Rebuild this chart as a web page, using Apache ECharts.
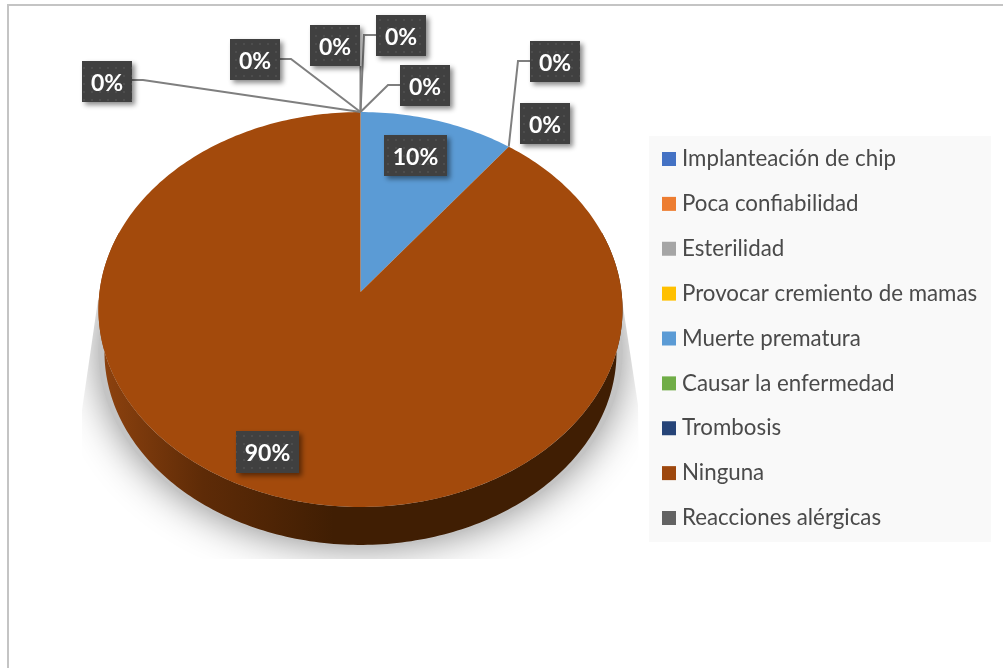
<!DOCTYPE html>
<html>
<head>
<meta charset="utf-8">
<style>html,body{margin:0;padding:0;background:#fff}#c{width:1003px;height:668px}</style>
<script src="https://cdn.jsdelivr.net/npm/echarts@6/dist/echarts.min.js"></script>
</head>
<body>
<div id="c"></div>
<script>
const categories = ['Implanteación de chip','Poca confiabilidad','Esterilidad','Provocar cremiento de mamas','Muerte prematura','Causar la enfermedad','Trombosis','Ninguna','Reacciones alérgicas'];
const values = [0,0,0,0,10.4,0,0,89.6,0];
const legendColors = ['#4472c4','#ed7d31','#a5a5a5','#ffc000','#5b9bd5','#70ad47','#264478','#9e480e','#636363'];
const sliceColors = ['#4472c4','#ed7d31','#a5a5a5','#ffc000','#5b9bd5','#70ad47','#264478','#a34a0c','#636363'];
// label box [left, top, width, height] per category
const labelBoxes = [[400,65,50,41],[376,15,50,41],[310,25,50,41],[230,39,50,41],[384,135,63,41],[520,103,50,41],[530,41,50,41],[236,431,63,42],[82,61,50,41]];
// leader elbows per category, null when a label has no leader
const leaders = [[[388,85],[400,85]],[[364,35],[376,35]],[[360.5,66]],[[291,59],[280,59]],null,null,[[518,61],[530,61]],null,[[143,80],[132,80]]];

const total = values.reduce((a,b)=>a+b,0);
const cum = []; values.reduce((a,b,i)=>{cum[i]=a;return a+b;},0);

// Tilted disc: projective view of a circle
const VX=360.5, VY=292, RX=261, RY=195.9, K=0.0886;
function rim(f){
  const t=f*2*Math.PI, u=Math.sin(t), v=Math.cos(t), w=1+K*v;
  return [VX+RX*u/w, VY-RY*v/w];
}
// lower rim of the disc's side wall
function lowRim(f){
  const p=rim(f);
  return [VX+(p[0]-VX)*256/262, 352+(p[1]-309.5)*193/197.5];
}
function arc(fn,a,b){
  const n=Math.max(2,Math.ceil((b-a)*360)), pts=[];
  for(let i=0;i<=n;i++) pts.push(fn(a+(b-a)*i/n));
  return pts;
}
// dotted label fill
const tile=document.createElement('canvas'); tile.width=8; tile.height=8;
(function(){
  const g=tile.getContext('2d');
  g.fillStyle='#404040'; g.fillRect(0,0,8,8);
  g.fillStyle='#4d4d4d'; g.fillRect(3,3,2,2);
})();

function renderSlice(i){
  return function(params,api){
    const val=api.value(0), a=cum[i]/total, b=(cum[i]+val)/total, children=[];
    if(i===0){
      children.push({type:'group',silent:true,
        clipPath:{type:'polygon',shape:{points:[[98,300],[82,410],[82,559],[640,559],[638,405],[622,300]]}},
        children:[{type:'ellipse',shape:{cx:360.5,cy:352,rx:262,ry:195},
          style:{fill:'#c4c4c4',shadowBlur:40,shadowColor:'#8a8a8a'}}]});
    }
    const wa=Math.max(a,0.2), wb=Math.min(b,0.8);
    if(val>0 && wb>wa){
      children.push({type:'polygon',shape:{points:arc(rim,wa,wb).concat(arc(lowRim,wa,wb).reverse())},
        style:{fill:{type:'linear',x:98,y:0,x2:622,y2:0,global:true,colorStops:[
          {offset:0,color:'#8f430f'},{offset:0.2,color:'#5e2b07'},{offset:0.45,color:'#401e03'},{offset:1,color:'#401e03'}]}}});
    }
    if(val>0){
      children.push({type:'polygon',shape:{points:[[VX,VY]].concat(arc(rim,a,b))},style:{fill:sliceColors[i]}});
    }
    if(leaders[i]){
      children.push({type:'polyline',shape:{points:[rim(a)].concat(leaders[i])},
        style:{fill:'none',stroke:'#7f7f7f',lineWidth:2},z2:5});
    }
    const box=labelBoxes[i];
    children.push({type:'rect',shape:{x:box[0],y:box[1],width:box[2],height:box[3]},z2:6,
      style:{fill:{image:tile,repeat:'repeat'},shadowBlur:5,shadowOffsetX:3,shadowOffsetY:3,shadowColor:'rgba(0,0,0,0.45)'}});
    children.push({type:'text',z2:7,style:{x:box[0]+box[2]/2,y:box[1]+box[3]/2+2,text:Math.round(val/total*100)+'%',
      fill:'#ffffff',font:'bold 23px Lato',align:'center',verticalAlign:'middle'}});
    return {type:'group',children:children};
  };
}

const chart=echarts.init(document.getElementById('c'),null,{renderer:'canvas'});
chart.setOption({
  animation:false,
  backgroundColor:'#ffffff',
  graphic:[
    {type:'rect',silent:true,shape:{x:7,y:4,width:996,height:2},style:{fill:'#c4c4c4'}},
    {type:'rect',silent:true,shape:{x:7,y:4,width:2,height:664},style:{fill:'#c4c4c4'}}
  ],
  legend:{
    orient:'vertical',left:649,top:136,
    backgroundColor:'#f9f9f9',
    padding:[12,14,13,13],
    icon:'rect',itemWidth:14,itemHeight:14,itemGap:22.875,
    selectedMode:false,
    textStyle:{fontFamily:'Lato',fontSize:22.3,color:'#4a4a4a',padding:[0,0,0,1]},
    data:categories
  },
  series:categories.map((name,i)=>({
    type:'custom',name:name,coordinateSystem:'none',
    color:legendColors[i],itemStyle:{color:legendColors[i]},
    silent:true,clip:false,
    z: i===0?1:2,
    data:[[values[i]]],
    renderItem:renderSlice(i)
  }))
});
</script>
</body>
</html>
